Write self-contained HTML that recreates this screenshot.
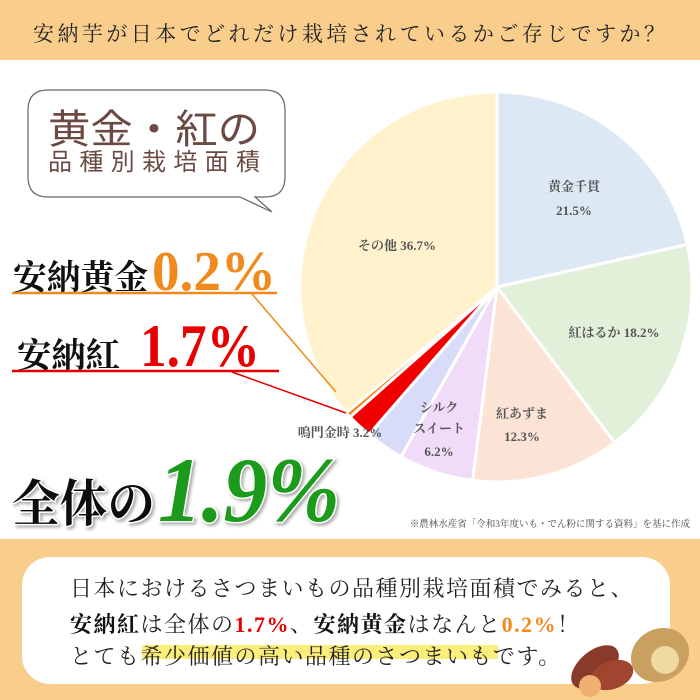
<!DOCTYPE html>
<html><head><meta charset="utf-8"><style>
html,body{margin:0;padding:0;background:#fff}
svg{display:block}
</style></head><body>
<svg width="700" height="700" viewBox="0 0 700 700" xmlns="http://www.w3.org/2000/svg">
<defs>
<filter id="sh" x="-10%" y="-10%" width="130%" height="130%"><feDropShadow dx="2" dy="2" stdDeviation="1.5" flood-color="#000" flood-opacity="0.35"/></filter>
</defs>
<rect x="0" y="0" width="700" height="60" fill="#f9cd8c"/>
<text x="33" y="41" font-family="'Liberation Serif','Noto Serif CJK SC',serif" font-size="21" fill="#222" textLength="632" lengthAdjust="spacing">安納芋が日本でどれだけ栽培されているかご存じですか？</text>

<g stroke="#fff" stroke-width="3" stroke-linejoin="round">
<path d="M497 287 L497 92 A195 195 0 0 1 687.3 244.5 Z" fill="#dde8f5"/>
<path d="M497 287 L687.3 244.5 A195 195 0 0 1 614.6 442.6 Z" fill="#e2efd9"/>
<path d="M497 287 L614.6 442.6 A195 195 0 0 1 472.6 480.4 Z" fill="#fbe4d5"/>
<path d="M497 287 L472.6 480.4 A195 195 0 0 1 401 456.7 Z" fill="#f0dcf9"/>
<path d="M497 287 L401 456.7 A195 195 0 0 1 369.1 434.2 Z" fill="#d9dcf8"/>
<path d="M497 287 L369.1 434.2 A195 195 0 0 1 350 417 Z" fill="#f20000"/>
<path d="M497 287 L350 417 A195 195 0 0 1 346 413 Z" fill="#f08a1c"/>
<path d="M497 287 L346 413 A195 195 0 0 1 497 92 Z" fill="#fff2cc"/>
</g>
<g font-family="'Liberation Serif','Noto Serif CJK SC',serif" font-weight="bold" font-size="13" fill="#555" text-anchor="middle">
<text x="574" y="191">黄金千貫</text>
<text x="574" y="215">21.5%</text>
<text x="614" y="337">紅はるか 18.2%</text>
<text x="522" y="418">紅あずま</text>
<text x="522" y="441">12.3%</text>
<text x="439" y="412">シルク</text>
<text x="439" y="433">スイート</text>
<text x="439" y="456">6.2%</text>
<text x="397" y="250">その他 36.7%</text>
<text x="340" y="437">鳴門金時 3.2%</text>
</g>

<path d="M48 90 H265 Q285 90 285 110 V177 Q285 197 265 197 L255 197 L272 212 L240 197 H48 Q28 197 28 177 V110 Q28 90 48 90 Z" fill="#fff" stroke="#666" stroke-width="1.2"/>
<text x="48" y="143" font-family="'Liberation Sans','Noto Sans CJK JP',sans-serif" font-size="40" fill="#6b4a44" textLength="212" lengthAdjust="spacingAndGlyphs">黄金・紅の</text>
<text x="48" y="170" font-family="'Liberation Sans','Noto Sans CJK JP',sans-serif" font-size="24" fill="#6b4a44" textLength="212" lengthAdjust="spacing">品種別栽培面積</text>

<line x1="12" y1="293" x2="277" y2="293" stroke="#f08a1c" stroke-width="2.5"/>
<line x1="252" y1="294" x2="336" y2="392" stroke="#f08a1c" stroke-width="1.5"/>
<line x1="12" y1="371" x2="279" y2="371" stroke="#e60000" stroke-width="2.5"/>
<line x1="232" y1="372" x2="346" y2="413" stroke="#e60000" stroke-width="1.5"/>

<g font-family="'Liberation Serif','Noto Serif CJK SC',serif" font-weight="bold">
<text x="13" y="289" font-size="34" fill="#111" textLength="135" lengthAdjust="spacingAndGlyphs">安納黄金</text>
<text x="152" y="290" font-size="56" fill="#f08a1c" textLength="124" lengthAdjust="spacingAndGlyphs">0.2%</text>
<text x="17" y="367" font-size="34" fill="#111" textLength="103" lengthAdjust="spacingAndGlyphs">安納紅</text>
<text x="140" y="366" font-size="60" fill="#e60000" textLength="120" lengthAdjust="spacingAndGlyphs">1.7%</text>
<g filter="url(#sh)" stroke="#fff" stroke-width="3" paint-order="stroke">
<text x="12" y="521" font-size="50" fill="#111" textLength="143" lengthAdjust="spacingAndGlyphs">全体の</text>
<text x="158" y="521" font-size="92" font-style="italic" fill="#1a9a1a" textLength="182" lengthAdjust="spacingAndGlyphs">1.9%</text>
</g>
</g>
<text x="690" y="527" text-anchor="end" font-family="'Liberation Serif','Noto Serif CJK SC',serif" font-size="9.5" fill="#444">※農林水産省「令和3年度いも・でん粉に関する資料」を基に作成</text>

<rect x="0" y="539" width="700" height="161" fill="#f9cd8c"/>
<rect x="22" y="557" width="648" height="127" rx="28" fill="#fff"/>
<rect x="142" y="645" width="356" height="14" fill="#fbee7a"/>
<g font-family="'Liberation Serif','Noto Serif CJK SC',serif" font-size="22" fill="#222">
<text x="70" y="596" letter-spacing="1.5">日本におけるさつまいもの品種別栽培面積でみると、</text>
<text x="70" y="632" letter-spacing="1.5"><tspan font-weight="bold" fill="#111">安納紅</tspan>は全体の<tspan font-weight="bold" fill="#e60000">1.7%</tspan>、<tspan font-weight="bold" fill="#111">安納黄金</tspan>はなんと<tspan font-weight="bold" fill="#f08a1c">0.2%</tspan>！</text>
<text x="70" y="664" letter-spacing="1.5">とても希少価値の高い品種のさつまいもです。</text>
</g>
<g>
<ellipse cx="660" cy="655" rx="30" ry="26" fill="#c9a060" transform="rotate(-30 660 655)"/>
<circle cx="665" cy="660" r="14" fill="#f0d9a0"/>
<ellipse cx="595" cy="667" rx="28" ry="16" fill="#8a3a2a" transform="rotate(-40 595 667)"/>
<ellipse cx="612" cy="675" rx="22" ry="14" fill="#a04530" transform="rotate(-20 612 675)"/>
<circle cx="590" cy="686" r="11" fill="#f0b070"/>
</g>
</svg>
</body></html>
